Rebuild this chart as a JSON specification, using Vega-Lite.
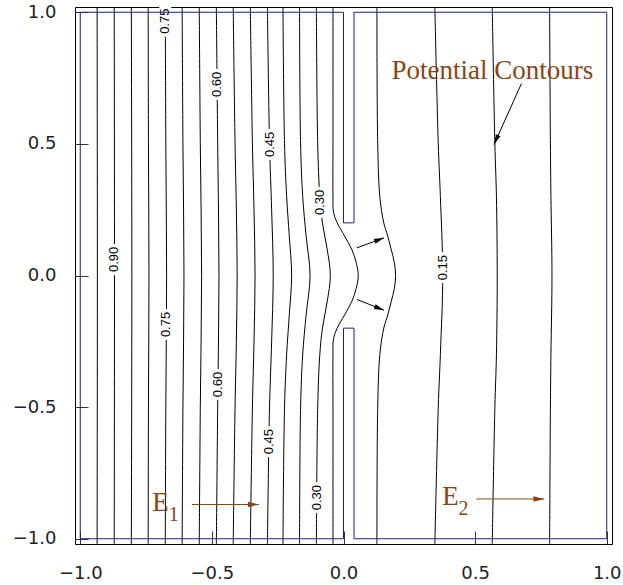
{
  "$schema": "https://vega.github.io/schema/vega-lite/v6.json",
  "width": 537,
  "height": 537,
  "autosize": {"type": "none"},
  "padding": {"left": 75, "top": 7, "right": 11, "bottom": 41},
  "config": {
    "view": {"stroke": "#000", "strokeWidth": 1},
    "axis": {
      "labelFont": "DejaVu Sans",
      "labelFontSize": 18,
      "labelColor": "#222",
      "tickColor": "#333",
      "tickWidth": 1,
      "labelFlush": false,
      "grid": false,
      "domain": false
    }
  },
  "datasets": {
    "contours": [
      {"level": 0.95, "x": -0.936, "y": 1.02}, {"level": 0.95, "x": -0.935, "y": 0}, {"level": 0.95, "x": -0.936, "y": -1.02},
      {"level": 0.90, "x": -0.871, "y": 1.02}, {"level": 0.90, "x": -0.870, "y": 0}, {"level": 0.90, "x": -0.871, "y": -1.02},
      {"level": 0.85, "x": -0.806, "y": 1.02}, {"level": 0.85, "x": -0.804, "y": 0}, {"level": 0.85, "x": -0.806, "y": -1.02},
      {"level": 0.80, "x": -0.742, "y": 1.02}, {"level": 0.80, "x": -0.741, "y": 0.5}, {"level": 0.80, "x": -0.739, "y": 0}, {"level": 0.80, "x": -0.741, "y": -0.5}, {"level": 0.80, "x": -0.742, "y": -1.02},
      {"level": 0.75, "x": -0.677, "y": 1.02}, {"level": 0.75, "x": -0.675, "y": 0.5}, {"level": 0.75, "x": -0.672, "y": 0}, {"level": 0.75, "x": -0.675, "y": -0.5}, {"level": 0.75, "x": -0.677, "y": -1.02},
      {"level": 0.70, "x": -0.613, "y": 1.02}, {"level": 0.70, "x": -0.610, "y": 0.5}, {"level": 0.70, "x": -0.606, "y": 0}, {"level": 0.70, "x": -0.610, "y": -0.5}, {"level": 0.70, "x": -0.613, "y": -1.02},
      {"level": 0.65, "x": -0.548, "y": 1.02}, {"level": 0.65, "x": -0.544, "y": 0.5}, {"level": 0.65, "x": -0.539, "y": 0}, {"level": 0.65, "x": -0.544, "y": -0.5}, {"level": 0.65, "x": -0.548, "y": -1.02},
      {"level": 0.60, "x": -0.483, "y": 1.02}, {"level": 0.60, "x": -0.478, "y": 0.5}, {"level": 0.60, "x": -0.473, "y": 0}, {"level": 0.60, "x": -0.478, "y": -0.5}, {"level": 0.60, "x": -0.483, "y": -1.02},
      {"level": 0.55, "x": -0.419, "y": 1.02}, {"level": 0.55, "x": -0.412, "y": 0.5}, {"level": 0.55, "x": -0.407, "y": 0.25}, {"level": 0.55, "x": -0.404, "y": 0}, {"level": 0.55, "x": -0.407, "y": -0.25}, {"level": 0.55, "x": -0.412, "y": -0.5}, {"level": 0.55, "x": -0.419, "y": -1.02},
      {"level": 0.50, "x": -0.354, "y": 1.02}, {"level": 0.50, "x": -0.346, "y": 0.5}, {"level": 0.50, "x": -0.340, "y": 0.25}, {"level": 0.50, "x": -0.336, "y": 0}, {"level": 0.50, "x": -0.340, "y": -0.25}, {"level": 0.50, "x": -0.346, "y": -0.5}, {"level": 0.50, "x": -0.354, "y": -1.02},
      {"level": 0.45, "x": -0.289, "y": 1.02}, {"level": 0.45, "x": -0.281, "y": 0.5}, {"level": 0.45, "x": -0.273, "y": 0.25}, {"level": 0.45, "x": -0.267, "y": 0}, {"level": 0.45, "x": -0.273, "y": -0.25}, {"level": 0.45, "x": -0.281, "y": -0.5}, {"level": 0.45, "x": -0.289, "y": -1.02},
      {"level": 0.40, "x": -0.230, "y": 1.02}, {"level": 0.40, "x": -0.224, "y": 0.5}, {"level": 0.40, "x": -0.216, "y": 0.3}, {"level": 0.40, "x": -0.206, "y": 0.15}, {"level": 0.40, "x": -0.197, "y": 0}, {"level": 0.40, "x": -0.206, "y": -0.15}, {"level": 0.40, "x": -0.216, "y": -0.3}, {"level": 0.40, "x": -0.224, "y": -0.5}, {"level": 0.40, "x": -0.230, "y": -1.02},
      {"level": 0.35, "x": -0.167, "y": 1.02}, {"level": 0.35, "x": -0.163, "y": 0.5}, {"level": 0.35, "x": -0.155, "y": 0.3}, {"level": 0.35, "x": -0.142, "y": 0.15}, {"level": 0.35, "x": -0.127, "y": 0}, {"level": 0.35, "x": -0.142, "y": -0.15}, {"level": 0.35, "x": -0.155, "y": -0.3}, {"level": 0.35, "x": -0.163, "y": -0.5}, {"level": 0.35, "x": -0.167, "y": -1.02},
      {"level": 0.30, "x": -0.103, "y": 1.02}, {"level": 0.30, "x": -0.098, "y": 0.5}, {"level": 0.30, "x": -0.090, "y": 0.3}, {"level": 0.30, "x": -0.080, "y": 0.2}, {"level": 0.30, "x": -0.062, "y": 0.1}, {"level": 0.30, "x": -0.050, "y": 0}, {"level": 0.30, "x": -0.062, "y": -0.1}, {"level": 0.30, "x": -0.080, "y": -0.2}, {"level": 0.30, "x": -0.090, "y": -0.3}, {"level": 0.30, "x": -0.098, "y": -0.5}, {"level": 0.30, "x": -0.103, "y": -1.02},
      {"level": 0.25, "x": -0.040, "y": 1.02}, {"level": 0.25, "x": -0.040, "y": 0.5}, {"level": 0.25, "x": -0.040, "y": 0.3}, {"level": 0.25, "x": -0.038, "y": 0.24}, {"level": 0.25, "x": -0.024, "y": 0.2}, {"level": 0.25, "x": 0.004, "y": 0.15}, {"level": 0.25, "x": 0.031, "y": 0.1}, {"level": 0.25, "x": 0.048, "y": 0.05}, {"level": 0.25, "x": 0.056, "y": 0},
      {"level": 0.25, "x": 0.048, "y": -0.05}, {"level": 0.25, "x": 0.031, "y": -0.1}, {"level": 0.25, "x": 0.004, "y": -0.15}, {"level": 0.25, "x": -0.024, "y": -0.2}, {"level": 0.25, "x": -0.038, "y": -0.24}, {"level": 0.25, "x": -0.040, "y": -0.3}, {"level": 0.25, "x": -0.040, "y": -0.5}, {"level": 0.25, "x": -0.040, "y": -1.02},
      {"level": 0.20, "x": 0.127, "y": 1.02}, {"level": 0.20, "x": 0.130, "y": 0.5}, {"level": 0.20, "x": 0.138, "y": 0.3}, {"level": 0.20, "x": 0.153, "y": 0.2}, {"level": 0.20, "x": 0.168, "y": 0.15}, {"level": 0.20, "x": 0.181, "y": 0.1}, {"level": 0.20, "x": 0.193, "y": 0.05}, {"level": 0.20, "x": 0.198, "y": 0},
      {"level": 0.20, "x": 0.193, "y": -0.05}, {"level": 0.20, "x": 0.181, "y": -0.1}, {"level": 0.20, "x": 0.168, "y": -0.15}, {"level": 0.20, "x": 0.153, "y": -0.2}, {"level": 0.20, "x": 0.138, "y": -0.3}, {"level": 0.20, "x": 0.130, "y": -0.5}, {"level": 0.20, "x": 0.127, "y": -1.02},
      {"level": 0.15, "x": 0.347, "y": 1.02}, {"level": 0.15, "x": 0.360, "y": 0.5}, {"level": 0.15, "x": 0.368, "y": 0.3}, {"level": 0.15, "x": 0.377, "y": 0}, {"level": 0.15, "x": 0.368, "y": -0.3}, {"level": 0.15, "x": 0.360, "y": -0.5}, {"level": 0.15, "x": 0.347, "y": -1.02},
      {"level": 0.10, "x": 0.565, "y": 1.02}, {"level": 0.10, "x": 0.575, "y": 0.5}, {"level": 0.10, "x": 0.581, "y": 0.3}, {"level": 0.10, "x": 0.584, "y": 0}, {"level": 0.10, "x": 0.581, "y": -0.3}, {"level": 0.10, "x": 0.575, "y": -0.5}, {"level": 0.10, "x": 0.565, "y": -1.02},
      {"level": 0.05, "x": 0.783, "y": 1.02}, {"level": 0.05, "x": 0.786, "y": 0.5}, {"level": 0.05, "x": 0.788, "y": 0.3}, {"level": 0.05, "x": 0.792, "y": 0}, {"level": 0.05, "x": 0.788, "y": -0.3}, {"level": 0.05, "x": 0.786, "y": -0.5}, {"level": 0.05, "x": 0.783, "y": -1.02}
    ],
    "contourLabels": [
      {"level": 0.75, "x": -0.677, "y": 0.966},
      {"level": 0.60, "x": -0.481, "y": 0.726},
      {"level": 0.45, "x": -0.281, "y": 0.498},
      {"level": 0.30, "x": -0.088, "y": 0.278},
      {"level": 0.90, "x": -0.870, "y": 0.061},
      {"level": 0.75, "x": -0.673, "y": -0.186},
      {"level": 0.60, "x": -0.477, "y": -0.414},
      {"level": 0.45, "x": -0.283, "y": -0.631},
      {"level": 0.30, "x": -0.102, "y": -0.844},
      {"level": 0.15, "x": 0.377, "y": 0.030}
    ],
    "electrodes": [
      {"i": 0, "x": -1, "y": 1}, {"i": 1, "x": 0, "y": 1}, {"i": 2, "x": 0, "y": 0.2}, {"i": 3, "x": 0.04, "y": 0.2},
      {"i": 4, "x": 0.04, "y": 1}, {"i": 5, "x": 1, "y": 1}, {"i": 6, "x": 1, "y": -1}, {"i": 7, "x": 0.04, "y": -1},
      {"i": 8, "x": 0.04, "y": -0.2}, {"i": 9, "x": 0, "y": -0.2}, {"i": 10, "x": 0, "y": -1}, {"i": 11, "x": -1, "y": -1},
      {"i": 12, "x": -1, "y": 1}
    ],
    "fieldArrows": [
      {"x": 0.572, "y": 0.498, "x2": 0.676, "y2": 0.729, "dir": 204.3},
      {"x": 0.154, "y": 0.143, "x2": 0.051, "y2": 0.105, "dir": 69.7},
      {"x": 0.154, "y": -0.132, "x2": 0.051, "y2": -0.091, "dir": 111.6}
    ],
    "electrodeArrows": [
      {"x": -0.321, "y": -0.870, "x2": -0.576, "y2": -0.870, "dir": 90},
      {"x": 0.763, "y": -0.849, "x2": 0.505, "y2": -0.849, "dir": 90}
    ],
    "notes": [
      {"text": "Potential Contours", "x": 0.182, "y": 0.748},
      {"text": "E", "x": -0.727, "y": -0.896},
      {"text": "E", "x": 0.375, "y": -0.871}
    ],
    "subscripts": [
      {"text": "1", "x": -0.664, "y": -0.934},
      {"text": "2", "x": 0.437, "y": -0.911}
    ]
  },
  "encoding": {
    "x": {
      "field": "x",
      "type": "quantitative",
      "scale": {"domain": [-1.02, 1.02], "nice": false, "zero": false},
      "axis": {"values": [-1, -0.5, 0, 0.5, 1], "format": ".1f", "title": null, "tickSize": -13, "labelPadding": 33}
    },
    "y": {
      "field": "y",
      "type": "quantitative",
      "scale": {"domain": [-1.02, 1.02], "nice": false, "zero": false},
      "axis": {"values": [-1, -0.5, 0, 0.5, 1], "format": ".1f", "title": null, "tickSize": -13, "labelPadding": 32}
    }
  },
  "layer": [
    {
      "data": {"name": "contours"},
      "mark": {"type": "line", "interpolate": "catmull-rom", "color": "#000", "strokeWidth": 1},
      "encoding": {
        "detail": {"field": "level", "type": "nominal"},
        "order": {"field": "y", "type": "quantitative"}
      }
    },
    {
      "data": {"name": "contourLabels"},
      "mark": {"type": "tick", "orient": "vertical", "size": 31, "thickness": 12, "color": "#fff", "opacity": 1}
    },
    {
      "data": {"name": "contourLabels"},
      "mark": {"type": "text", "angle": 270, "align": "center", "baseline": "middle", "font": "Liberation Sans", "fontSize": 13, "color": "#000"},
      "encoding": {"text": {"field": "level", "type": "quantitative", "format": ".2f"}}
    },
    {
      "data": {"name": "electrodes"},
      "mark": {"type": "line", "color": "#1f1f8c", "strokeWidth": 1, "strokeJoin": "miter"},
      "encoding": {"order": {"field": "i", "type": "quantitative"}}
    },
    {
      "data": {"name": "fieldArrows"},
      "mark": {"type": "rule", "color": "#000", "strokeWidth": 1},
      "encoding": {"x2": {"field": "x2"}, "y2": {"field": "y2"}}
    },
    {
      "data": {"name": "fieldArrows"},
      "mark": {"type": "point", "shape": "M0,0L0.5,2L-0.5,2Z", "filled": true, "color": "#000", "opacity": 1, "size": 100},
      "encoding": {"angle": {"field": "dir", "type": "quantitative", "scale": null}}
    },
    {
      "data": {"name": "electrodeArrows"},
      "mark": {"type": "rule", "color": "#8B4513", "strokeWidth": 1},
      "encoding": {"x2": {"field": "x2"}, "y2": {"field": "y2"}}
    },
    {
      "data": {"name": "electrodeArrows"},
      "mark": {"type": "point", "shape": "M0,0L0.5,2L-0.5,2Z", "filled": true, "color": "#8B4513", "opacity": 1, "size": 121},
      "encoding": {"angle": {"field": "dir", "type": "quantitative", "scale": null}}
    },
    {
      "data": {"name": "notes"},
      "mark": {"type": "text", "align": "left", "baseline": "alphabetic", "font": "Liberation Serif", "fontSize": 27, "color": "#8B4513"},
      "encoding": {"text": {"field": "text"}}
    },
    {
      "data": {"name": "subscripts"},
      "mark": {"type": "text", "align": "left", "baseline": "alphabetic", "font": "Liberation Serif", "fontSize": 20, "color": "#8B4513"},
      "encoding": {"text": {"field": "text"}}
    }
  ]
}
